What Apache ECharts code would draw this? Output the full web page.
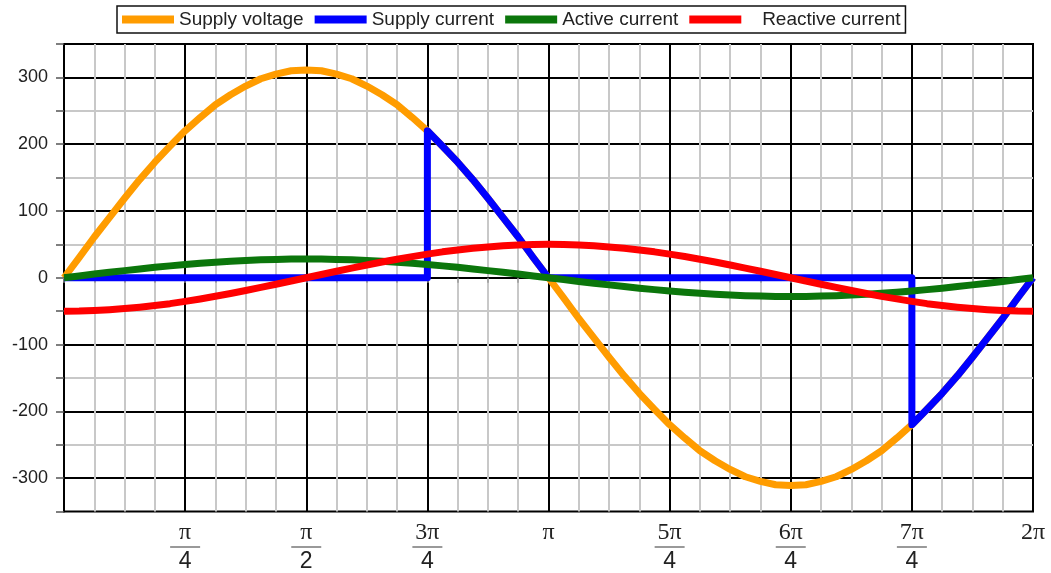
<!DOCTYPE html>
<html>
<head>
<meta charset="utf-8">
<script src="https://cdn.jsdelivr.net/npm/echarts@6/dist/echarts.min.js"></script>
<style>
html,body{margin:0;padding:0;background:#fff;}
#chart{width:1051px;height:573px;}
</style>
</head>
<body>
<div id="chart"></div>
<script>
// x positions in units of pi/16 (sampled every pi/32)
const xSteps = [0,0.5,1,1.5,2,2.5,3,3.5,4,4.5,5,5.5,6,6.5,7,7.5,8,8.5,9,9.5,10,10.5,11,11.5,12,12.5,13,13.5,14,14.5,15,15.5,16,16.5,17,17.5,18,18.5,19,19.5,20,20.5,21,21.5,22,22.5,23,23.5,24,24.5,25,25.5,26,26.5,27,27.5,28,28.5,29,29.5,30,30.5,31,31.5,32];
const supplyVoltage = [0,30,61,90,119,147,173,197,220,240,259,274,287,298,305,310,311,310,305,298,287,274,259,240,220,197,173,147,119,90,61,30,0,-30,-61,-90,-119,-147,-173,-197,-220,-240,-259,-274,-287,-298,-305,-310,-311,-310,-305,-298,-287,-274,-259,-240,-220,-197,-173,-147,-119,-90,-61,-30,0];
const activeCurrent = [0,2.7,5.5,8.1,10.7,13.2,15.6,17.8,19.8,21.6,23.3,24.7,25.9,26.8,27.5,27.9,28,27.9,27.5,26.8,25.9,24.7,23.3,21.6,19.8,17.8,15.6,13.2,10.7,8.1,5.5,2.7,0,-2.7,-5.5,-8.1,-10.7,-13.2,-15.6,-17.8,-19.8,-21.6,-23.3,-24.7,-25.9,-26.8,-27.5,-27.9,-28,-27.9,-27.5,-26.8,-25.9,-24.7,-23.3,-21.6,-19.8,-17.8,-15.6,-13.2,-10.7,-8.1,-5.5,-2.7,0];
const reactiveCurrent = [-50,-49.8,-49,-47.8,-46.2,-44.1,-41.6,-38.8,-35.4,-31.7,-27.8,-23.6,-19.1,-14.5,-9.8,-4.9,0,4.9,9.8,14.5,19.1,23.6,27.8,31.7,35.4,38.8,41.6,44.1,46.2,47.8,49,49.8,50,49.8,49,47.8,46.2,44.1,41.6,38.8,35.4,31.7,27.8,23.6,19.1,14.5,9.8,4.9,0,-4.9,-9.8,-14.5,-19.1,-23.6,-27.8,-31.7,-35.4,-38.8,-41.6,-44.1,-46.2,-47.8,-49,-49.8,-50];
const supplyCurrentX = [0,12,12,12.5,13,13.5,14,14.5,15,15.5,16,28,28,28.5,29,29.5,30,30.5,31,31.5,32];
const supplyCurrentY = [0,0,220,197,173,147,119,90,61,30,0,0,-220,-197,-173,-147,-119,-90,-61,-30,0];
const xTickLabels = ['', 'π/4', 'π/2', '3π/4', 'π', '5π/4', '6π/4', '7π/4', '2π'];
const yTickLabels = [-300,-200,-100,0,100,200,300];
const seriesNames = ['Supply voltage','Supply current','Active current','Reactive current'];
const seriesColors = ['#ff9c00','#0000ff','#0b760b','#ff0000'];

const pairs = (xs, ys) => xs.map((x, i) => [x, ys[i]]);

const chart = echarts.init(document.getElementById('chart'));
chart.setOption({
  animation: false,
  backgroundColor: '#fff',
  grid: {left: 64, right: 18, top: 44, bottom: 60, show: true, borderColor: '#000', borderWidth: 2, backgroundColor: 'transparent'},
  legend: {
    left: 117, top: 6, padding: [4,5,4,5], itemGap: 11, itemWidth: 52, itemHeight: 8,
    backgroundColor: '#fff', borderColor: '#111', borderWidth: 1.5,
    icon: 'rect',
    textStyle: {fontFamily: 'Liberation Sans', fontSize: 19, color: '#222'},
    formatter: n => n === 'Reactive current' ? '   ' + n : n,
    data: seriesNames
  },
  xAxis: {
    type: 'value', min: 0, max: 32, interval: 1,
    axisLine: {show: true, lineStyle: {color: '#000', width: 2}},
    axisTick: {show: true, length: 5, lineStyle: {color: '#999', width: 1.5}},
    splitLine: {show: true, showMinLine: false, showMaxLine: false, lineStyle: {color: ['#c8c8c8','#c8c8c8','#c8c8c8','#000'], width: 2}},
    axisLabel: {
      margin: 10,
      formatter: v => {
        if (v % 4 !== 0) return '';
        const s = xTickLabels[v / 4];
        if (!s) return '';
        const p = s.split('/');
        if (p.length === 1) return '{n|' + p[0] + '}';
        return '{n|' + p[0] + '}\n{b| }\n{d|' + p[1] + '}';
      },
      rich: {
        n: {fontFamily: 'Liberation Serif', fontSize: 24, lineHeight: 23, color: '#222', align: 'center'},
        b: {width: 30, height: 1, backgroundColor: '#333', fontSize: 1, lineHeight: 5, align: 'center'},
        d: {fontFamily: 'Liberation Sans', fontSize: 23, lineHeight: 24, color: '#222', align: 'center'}
      }
    }
  },
  yAxis: {
    type: 'value', min: -350, max: 350, interval: 50,
    axisLine: {show: true, lineStyle: {color: '#000', width: 2}},
    axisTick: {show: true, length: 8, lineStyle: {color: '#555', width: 1.5}},
    splitLine: {show: true, showMinLine: false, showMaxLine: false, lineStyle: {color: ['#000','#c8c8c8'], width: 2}},
    axisLabel: {
      margin: 16, fontFamily: 'Liberation Sans', fontSize: 18, color: '#222',
      formatter: v => yTickLabels.indexOf(v) >= 0 ? String(v) : ''
    }
  },
  series: [
    {name: seriesNames[0], type: 'line', smooth: false, symbol: 'none', data: pairs(xSteps, supplyVoltage), lineStyle: {color: seriesColors[0], width: 7, join: 'round'}, itemStyle: {color: seriesColors[0]}},
    {name: seriesNames[1], type: 'line', smooth: false, symbol: 'none', data: pairs(supplyCurrentX, supplyCurrentY), lineStyle: {color: seriesColors[1], width: 7, join: 'round'}, itemStyle: {color: seriesColors[1]}},
    {name: seriesNames[2], type: 'line', smooth: false, symbol: 'none', data: pairs(xSteps, activeCurrent), lineStyle: {color: seriesColors[2], width: 7, join: 'round'}, itemStyle: {color: seriesColors[2]}},
    {name: seriesNames[3], type: 'line', smooth: false, symbol: 'none', data: pairs(xSteps, reactiveCurrent), lineStyle: {color: seriesColors[3], width: 7, join: 'round'}, itemStyle: {color: seriesColors[3]}}
  ]
});
</script>
</body>
</html>
